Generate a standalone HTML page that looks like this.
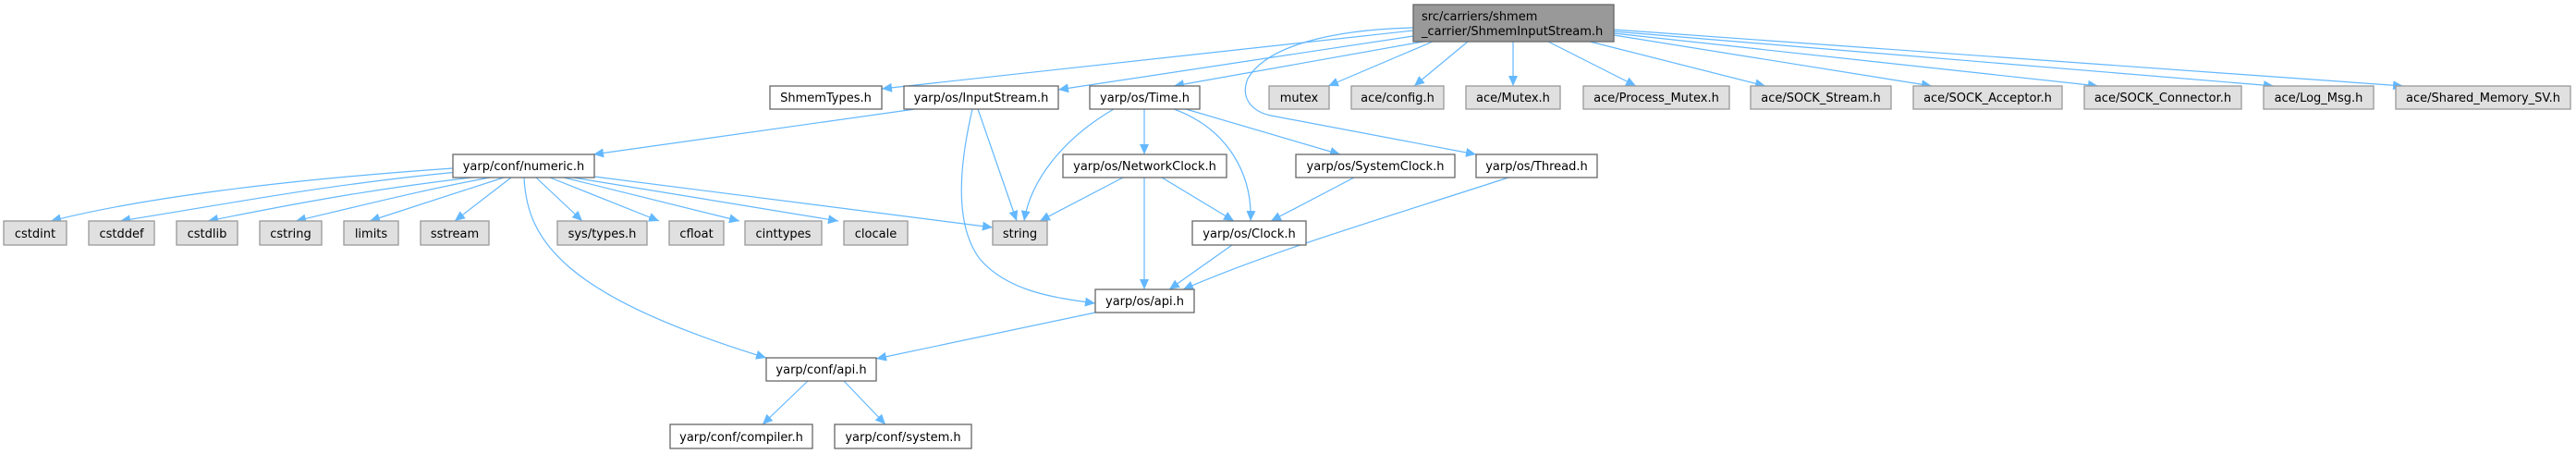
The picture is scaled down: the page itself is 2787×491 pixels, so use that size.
<!DOCTYPE html>
<html><head><meta charset="utf-8"><style>
html,body{margin:0;padding:0;background:#fff;}
svg{display:block;}
text{font-family:"DejaVu Sans","Liberation Sans",sans-serif;font-size:13px;fill:#000;}
.w{fill:#fff;stroke:#666;stroke-width:1.3;}
.g{fill:#e0e0e0;stroke:#999;stroke-width:1.3;}
.r{fill:#999;stroke:#666;stroke-width:1.3;}
.e{fill:none;stroke:#63b8ff;stroke-width:1.2;}
</style></head><body>
<svg width="2787" height="491" viewBox="0 0 2787 491" xmlns="http://www.w3.org/2000/svg">
<defs><marker id="a" markerWidth="12" markerHeight="10" refX="11" refY="5" orient="auto" markerUnits="userSpaceOnUse"><path d="M0,0 L11,5 L0,10 z" fill="#63b8ff"/></marker></defs>
<g marker-end="url(#a)">
<path class="e" d="M1529,33 L954,96"/>
<path class="e" d="M1529,39 L1145,97"/>
<path class="e" d="M1540,45 L1270,93"/>
<path class="e" d="M1529,30 C1440,32 1370,50 1350,85 C1340,110 1360,122 1375,125 L1597,167"/>
<path class="e" d="M1550,45 L1437,93"/>
<path class="e" d="M1588,45 L1530,93"/>
<path class="e" d="M1637,45 L1637,93"/>
<path class="e" d="M1675,45 L1770,93"/>
<path class="e" d="M1720,45 L1910,93"/>
<path class="e" d="M1746,38 L2090,93"/>
<path class="e" d="M1746,36 L2270,93"/>
<path class="e" d="M1746,34 L2460,93"/>
<path class="e" d="M1746,32 L2600,93"/>
<path class="e" d="M990,118 L642,167"/>
<path class="e" d="M1058,118 L1100,239"/>
<path class="e" d="M1052,118 C1040,170 1030,240 1060,280 C1090,315 1140,322 1185,328"/>
<path class="e" d="M1205,118 C1150,150 1115,195 1108,239"/>
<path class="e" d="M1238,118 L1238,167"/>
<path class="e" d="M1270,118 C1330,140 1355,190 1353,239"/>
<path class="e" d="M1283,118 L1450,167"/>
<path class="e" d="M1215,192 L1125,239"/>
<path class="e" d="M1238,192 L1238,313"/>
<path class="e" d="M1257,192 L1335,239"/>
<path class="e" d="M1465,192 L1375,239"/>
<path class="e" d="M1632,192 C1500,235 1380,270 1280,313"/>
<path class="e" d="M1333,265 L1265,313"/>
<path class="e" d="M1185,338 L948,388"/>
<path class="e" d="M490,182 C300,195 150,215 55,239"/>
<path class="e" d="M495,186 C350,200 250,220 130,239"/>
<path class="e" d="M510,192 C400,205 320,220 225,239"/>
<path class="e" d="M530,192 C460,205 400,220 320,239"/>
<path class="e" d="M545,192 L400,239"/>
<path class="e" d="M553,192 L492,239"/>
<path class="e" d="M580,192 L630,239"/>
<path class="e" d="M595,192 L713,239"/>
<path class="e" d="M610,192 L800,239"/>
<path class="e" d="M620,192 L907,239"/>
<path class="e" d="M643,191 L1074,246"/>
<path class="e" d="M567,192 C570,260 610,320 829,387"/>
<path class="e" d="M874,412 L825,459"/>
<path class="e" d="M913,412 L958,459"/>
</g>
<rect class="r" x="1529" y="5" width="217" height="40"/>
<text x="1538" y="22">src/carriers/shmem</text>
<text x="1538" y="38">_carrier/ShmemInputStream.h</text>
<rect class="w" x="833" y="93" width="121" height="25"/><text x="893.5" y="110" text-anchor="middle">ShmemTypes.h</text>
<rect class="w" x="978" y="93" width="167" height="25"/><text x="1061.5" y="110" text-anchor="middle">yarp/os/InputStream.h</text>
<rect class="w" x="1179" y="93" width="119" height="25"/><text x="1238.5" y="110" text-anchor="middle">yarp/os/Time.h</text>
<rect class="g" x="1373" y="93" width="65" height="25"/><text x="1405.5" y="110" text-anchor="middle">mutex</text>
<rect class="g" x="1462" y="93" width="100" height="25"/><text x="1512" y="110" text-anchor="middle">ace/config.h</text>
<rect class="g" x="1586" y="93" width="102" height="25"/><text x="1637" y="110" text-anchor="middle">ace/Mutex.h</text>
<rect class="g" x="1713" y="93" width="158" height="25"/><text x="1792" y="110" text-anchor="middle">ace/Process_Mutex.h</text>
<rect class="g" x="1894" y="93" width="152" height="25"/><text x="1970" y="110" text-anchor="middle">ace/SOCK_Stream.h</text>
<rect class="g" x="2070" y="93" width="161" height="25"/><text x="2150.5" y="110" text-anchor="middle">ace/SOCK_Acceptor.h</text>
<rect class="g" x="2255" y="93" width="170" height="25"/><text x="2340" y="110" text-anchor="middle">ace/SOCK_Connector.h</text>
<rect class="g" x="2449" y="93" width="119" height="25"/><text x="2508.5" y="110" text-anchor="middle">ace/Log_Msg.h</text>
<rect class="g" x="2592" y="93" width="189" height="25"/><text x="2686.5" y="110" text-anchor="middle">ace/Shared_Memory_SV.h</text>
<rect class="w" x="490" y="167" width="153" height="25"/><text x="566.5" y="184" text-anchor="middle">yarp/conf/numeric.h</text>
<rect class="w" x="1150" y="167" width="177" height="25"/><text x="1238.5" y="184" text-anchor="middle">yarp/os/NetworkClock.h</text>
<rect class="w" x="1402" y="167" width="172" height="25"/><text x="1488" y="184" text-anchor="middle">yarp/os/SystemClock.h</text>
<rect class="w" x="1597" y="167" width="131" height="25"/><text x="1662.5" y="184" text-anchor="middle">yarp/os/Thread.h</text>
<rect class="g" x="4" y="239" width="68" height="26"/><text x="38" y="257" text-anchor="middle">cstdint</text>
<rect class="g" x="96" y="239" width="71" height="26"/><text x="131.5" y="257" text-anchor="middle">cstddef</text>
<rect class="g" x="191" y="239" width="66" height="26"/><text x="224" y="257" text-anchor="middle">cstdlib</text>
<rect class="g" x="281" y="239" width="67" height="26"/><text x="314.5" y="257" text-anchor="middle">cstring</text>
<rect class="g" x="372" y="239" width="59" height="26"/><text x="401.5" y="257" text-anchor="middle">limits</text>
<rect class="g" x="455" y="239" width="74" height="26"/><text x="492" y="257" text-anchor="middle">sstream</text>
<rect class="g" x="603" y="239" width="97" height="26"/><text x="651.5" y="257" text-anchor="middle">sys/types.h</text>
<rect class="g" x="724" y="239" width="59" height="26"/><text x="753.5" y="257" text-anchor="middle">cfloat</text>
<rect class="g" x="806" y="239" width="83" height="26"/><text x="847.5" y="257" text-anchor="middle">cinttypes</text>
<rect class="g" x="913" y="239" width="69" height="26"/><text x="947.5" y="257" text-anchor="middle">clocale</text>
<rect class="g" x="1074" y="239" width="59" height="26"/><text x="1103.5" y="257" text-anchor="middle">string</text>
<rect class="w" x="1290" y="239" width="123" height="26"/><text x="1351.5" y="257" text-anchor="middle">yarp/os/Clock.h</text>
<rect class="w" x="1185" y="313" width="107" height="25"/><text x="1238.5" y="330" text-anchor="middle">yarp/os/api.h</text>
<rect class="w" x="829" y="387" width="119" height="25"/><text x="888.5" y="404" text-anchor="middle">yarp/conf/api.h</text>
<rect class="w" x="725" y="459" width="154" height="26"/><text x="802" y="477" text-anchor="middle">yarp/conf/compiler.h</text>
<rect class="w" x="903" y="459" width="148" height="26"/><text x="977" y="477" text-anchor="middle">yarp/conf/system.h</text>
</svg>
</body></html>
